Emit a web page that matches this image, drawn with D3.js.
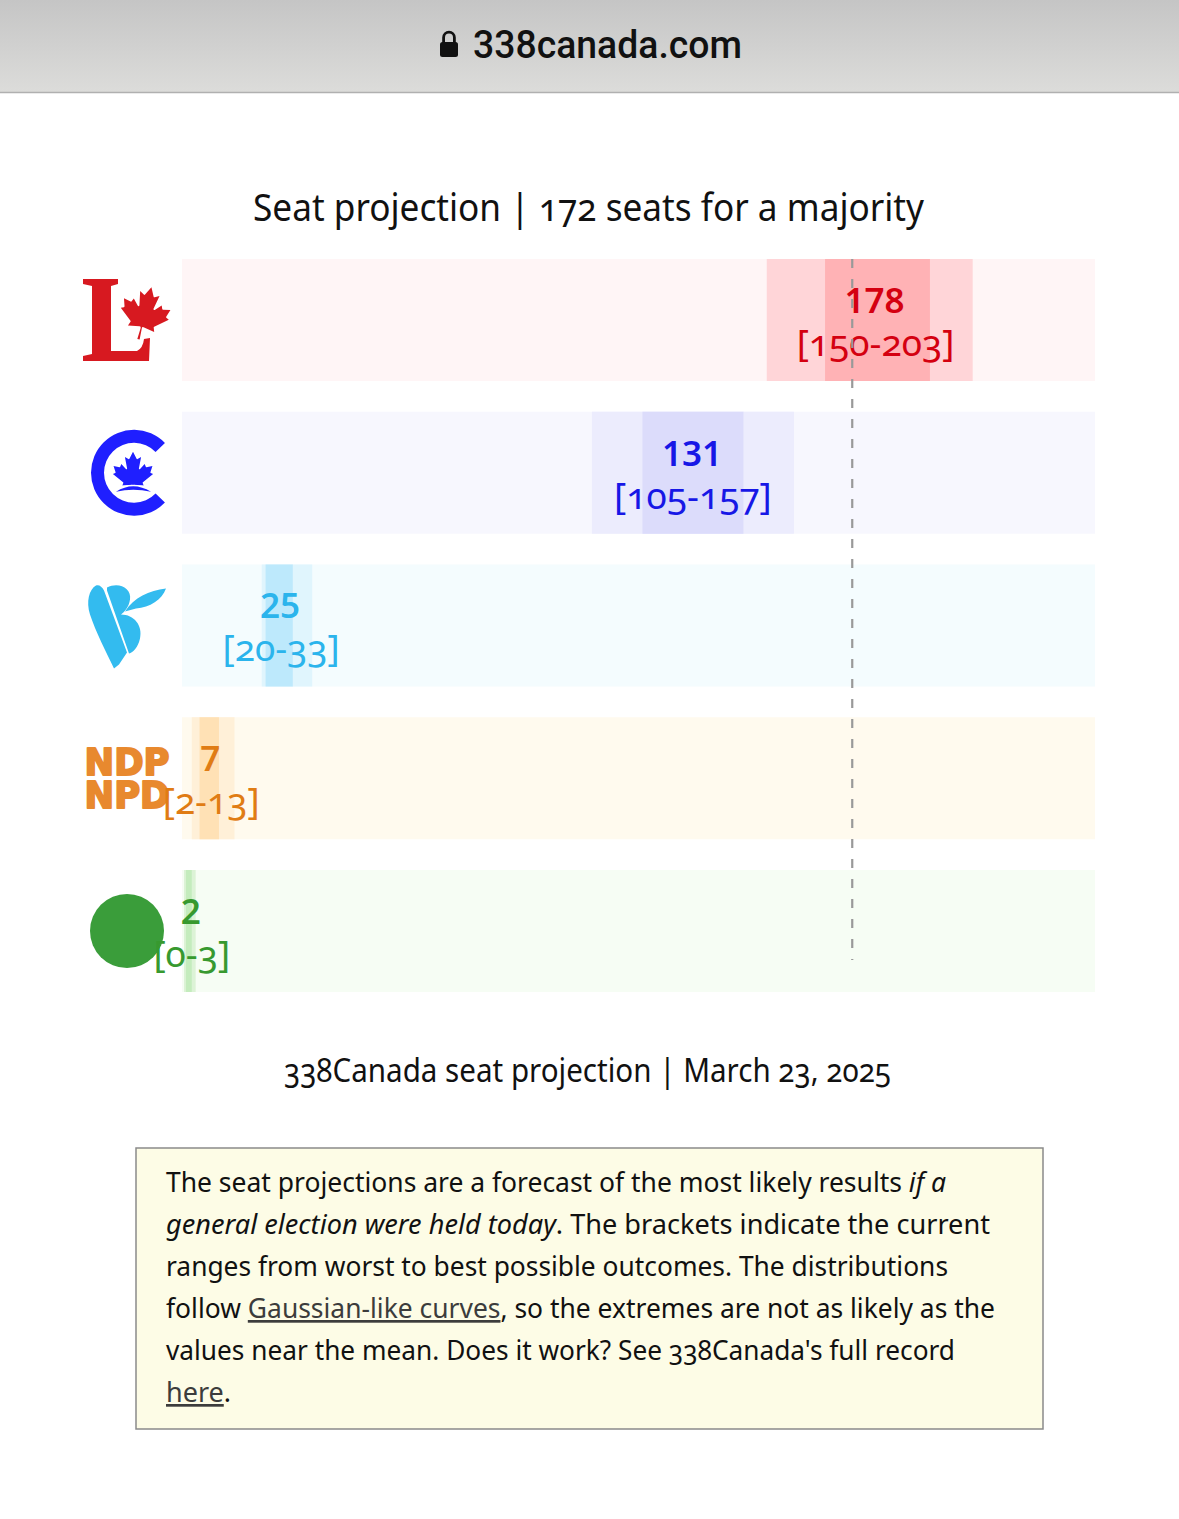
<!DOCTYPE html>
<html>
<head>
<meta charset="utf-8">
<script src="https://cdn.jsdelivr.net/npm/d3@7"></script>
<style>
  html, body { margin: 0; padding: 0; background: #ffffff; }
  svg { display: block; }
  .osn { font-variant-numeric: oldstyle-nums; font-feature-settings: "onum" 1; }
</style>
</head>
<body>
<svg id="chart" width="1179" height="1519"></svg>
<script>
// ---------------- data ----------------
const parties    = ["Liberal", "Conservative", "Bloc", "NDP", "Green"];
const projected  = [178, 131, 25, 7, 2];
const rangeLow   = [150, 105, 20, 2, 0];
const rangeHigh  = [203, 157, 33, 13, 3];
const likelyLow  = [165, 118, 21, 4, 0.5];
const likelyHigh = [192, 144, 28, 9, 2];
const majority   = 172;
const seatMax    = 235;

const titleText  = "Seat projection | 172 seats for a majority";
const dateText   = "338Canada seat projection | March 23, 2025";
const urlText    = "338canada.com";
const noteLines  = [
  [["The seat projections are a forecast of the most likely results ", ""], ["if a", "i"]],
  [["general election were held today", "i"], [". The brackets indicate the current", ""]],
  [["ranges from worst to best possible outcomes. The distributions", ""]],
  [["follow ", ""], ["Gaussian-like curves", "u"], [", so the extremes are not as likely as the", ""]],
  [["values near the mean. Does it work? See 338Canada's full record", ""]],
  [["here", "u"], [".", ""]]
];

// ---------------- styles ----------------
const textColor  = ["#d40010", "#1717e6", "#2bb4ec", "#e07c14", "#37992f"];
const bgColor    = ["#fff5f6", "#f7f7fe", "#f4fcfe", "#fffaee", "#f6fdf4"];
const outerColor = ["#ffd5d8", "#ececfd", "#e0f5fd", "#fff0d8", "#dcf3d6"];
const innerColor = ["#ffb2b5", "#dcdcfb", "#bde9fc", "#ffe1b5", "#c4ecbd"];
const FONT = "'Noto Sans', 'Open Sans', sans-serif";

const svg = d3.select("#chart");
const defs = svg.append("defs");

// ---------------- browser bar ----------------
const grad = defs.append("linearGradient").attr("id", "bar").attr("x1", 0).attr("y1", 0).attr("x2", 0).attr("y2", 1);
grad.append("stop").attr("offset", "0%").attr("stop-color", "#c5c5c5");
grad.append("stop").attr("offset", "100%").attr("stop-color", "#dcdcda");
svg.append("rect").attr("x", 0).attr("y", 0).attr("width", 1179).attr("height", 92).attr("fill", "url(#bar)");
svg.append("line").attr("x1", 0).attr("x2", 1179).attr("y1", 92.5).attr("y2", 92.5).attr("stroke", "#b0b0b0").attr("stroke-width", 1.5);
svg.append("rect").attr("x", 440).attr("y", 42).attr("width", 18).attr("height", 15).attr("rx", 2.5).attr("fill", "#111");
svg.append("path").attr("d", "M443.6,43 V37.5 a5.4,5.4 0 0 1 10.8,0 V43").attr("fill", "none").attr("stroke", "#111").attr("stroke-width", 2.8);
svg.append("text").attr("x", 473).attr("y", 58).attr("textLength", 269).attr("lengthAdjust", "spacingAndGlyphs")
  .attr("font-family", "Roboto, 'Liberation Sans', sans-serif").attr("font-weight", 500).attr("font-size", 38)
  .attr("fill", "#111").text(urlText);

// ---------------- title ----------------
svg.append("text").attr("class", "osn").attr("x", 253).attr("y", 221)
  .attr("textLength", 671).attr("lengthAdjust", "spacingAndGlyphs")
  .attr("font-family", FONT).attr("font-size", 38).attr("fill", "#111").text(titleText);

// ---------------- scales ----------------
const x = d3.scaleLinear().domain([0, seatMax]).range([184, 1097]);
const y = d3.scaleBand().domain(parties).range([259, 992]).paddingInner(0.2013).paddingOuter(0);
const bw = y.bandwidth();

const rows = parties.map((p, i) => ({
  p, i, proj: projected[i], lo: rangeLow[i], hi: rangeHigh[i], llo: likelyLow[i], lhi: likelyHigh[i]
}));

const g = svg.append("g");
g.selectAll("rect.bg").data(rows).join("rect").attr("class", "bg")
  .attr("x", x(0) - 2).attr("width", x(seatMax) - x(0))
  .attr("y", d => y(d.p)).attr("height", bw).attr("fill", d => bgColor[d.i]);
g.selectAll("rect.outer").data(rows).join("rect").attr("class", "outer")
  .attr("x", d => x(d.lo)).attr("width", d => x(d.hi) - x(d.lo))
  .attr("y", d => y(d.p)).attr("height", bw).attr("fill", d => outerColor[d.i]);
g.selectAll("rect.inner").data(rows).join("rect").attr("class", "inner")
  .attr("x", d => x(d.llo)).attr("width", d => x(d.lhi) - x(d.llo))
  .attr("y", d => y(d.p)).attr("height", bw).attr("fill", d => innerColor[d.i]);

// ---------------- logos ----------------
const refCenter = [320, 473, 625, 778, 931];
const logo = svg.append("g").selectAll("g").data(rows).join("g")
  .attr("transform", d => `translate(0,${y(d.p) + bw / 2 - refCenter[d.i]})`);

const leafPath = "m-90 2030 45-863a95 95 0 0 0-111-98l-859 151 116-320a65 65 0 0 0-20-73l-941-762 212-99a65 65 0 0 0 34-79l-186-572 542 115a65 65 0 0 0 73-38l105-247 423 454a65 65 0 0 0 111-57l-204-1052 327 189a65 65 0 0 0 91-27l332-652 332 652a65 65 0 0 0 91 27l327-189-204 1052a65 65 0 0 0 111 57l423-454 105 247a65 65 0 0 0 73 38l542-115-186 572a65 65 0 0 0 34 79l212 99-941 762a65 65 0 0 0-20 73l116 320-859-151a95 95 0 0 0-111 98l45 863z";

// Liberal
const lib = logo.filter(d => d.i === 0);
lib.append("path").attr("fill", "#d71920")
  .attr("d", "M83,279 L118,279 L118,284 L111,286 L111,351 L137,351 Q143,348 144,339 L150,338 L149,361 L83,361 L83,356 L92,354 L92,286 L83,284 Z");
lib.append("path").attr("fill", "#d71920").attr("d", leafPath)
  .attr("transform", "translate(145,313) rotate(14) scale(0.0133)");

// Conservative
const cpc = logo.filter(d => d.i === 1);
cpc.append("path").attr("fill", "#1f1fff")
  .attr("transform", "translate(134,473)")
  .attr("d", d3.arc()({ innerRadius: 30, outerRadius: 43, startAngle: 134 * Math.PI / 180, endAngle: 406 * Math.PI / 180 }));
defs.append("clipPath").attr("id", "cpcclip").append("path")
  .attr("d", "M100,430 L170,430 L170,491 Q133,479 96,491 Z");
cpc.append("g").attr("clip-path", "url(#cpcclip)").append("path").attr("fill", "#1f1fff").attr("d", leafPath)
  .attr("transform", "translate(133,473.6) scale(0.0108)");
cpc.append("path").attr("fill", "#1f1fff").attr("d", "M116,492 Q133,481 151,492 Q133,488 116,492 Z");

// Bloc
const bq = logo.filter(d => d.i === 2);
bq.append("path").attr("fill", "#33bbef")
  .attr("d", "M96,585 C89,589 86,601 90,614 C96,632 106,651 114,668 L119,664 L127,652 L104,590 C102,586 99,584 96,585 Z");
bq.append("path").attr("fill", "#33bbef")
  .attr("d", "M107,587 C118,581 132,587 130,599 C129,606 125,611 121,614 C134,614 143,625 140,638 C138,647 133,652 129,653 L107,590 Z");
bq.append("path").attr("fill", "#33bbef")
  .attr("d", "M125,611 C134,597 149,590 166,588 C162,599 150,607 136,608 Z");

// NDP
const ndp = logo.filter(d => d.i === 3);
[["NDP", 775], ["NPD", 808]].forEach(([s, yy]) => {
  ndp.append("text").attr("x", 84.5).attr("y", yy).attr("textLength", 85).attr("lengthAdjust", "spacingAndGlyphs")
    .attr("font-family", "'DejaVu Sans', sans-serif").attr("font-weight", "bold").attr("font-size", 37)
    .attr("fill", "#e8892e").attr("stroke", "#e8892e").attr("stroke-width", 2).attr("stroke-linejoin", "round").text(s);
});

// Green
logo.filter(d => d.i === 4).append("circle").attr("cx", 127).attr("cy", 931).attr("r", 37).attr("fill", "#3a9d3a");

// ---------------- labels ----------------
const lab = svg.append("g").attr("font-family", FONT).attr("text-anchor", "middle");
lab.selectAll("text.val").data(rows).join("text").attr("class", "val")
  .attr("x", d => x(d.proj) - 1).attr("y", d => y(d.p) + 54)
  .attr("font-size", 35).attr("font-weight", 600).attr("fill", d => textColor[d.i])
  .text(d => d.proj);
lab.selectAll("text.rng").data(rows).join("text").attr("class", "rng osn")
  .attr("x", d => x(d.proj)).attr("y", d => y(d.p) + 97)
  .attr("font-size", 37).attr("fill", d => textColor[d.i])
  .text(d => `[${d.lo}-${d.hi}]`);

// ---------------- majority line ----------------
svg.append("line").attr("x1", x(majority)).attr("x2", x(majority))
  .attr("y1", y(parties[0])).attr("y2", 960)
  .attr("stroke", "#999999").attr("stroke-width", 2.2).attr("stroke-dasharray", "9,11");

// ---------------- date caption ----------------
svg.append("text").attr("class", "osn").attr("x", 284).attr("y", 1082)
  .attr("textLength", 607).attr("lengthAdjust", "spacingAndGlyphs")
  .attr("font-family", FONT).attr("font-size", 33).attr("fill", "#111").text(dateText);

// ---------------- note box ----------------
svg.append("rect").attr("x", 136).attr("y", 1148).attr("width", 907).attr("height", 281)
  .attr("fill", "#fdfce6").attr("stroke", "#8a8a8a").attr("stroke-width", 1.5);
const lineEnds = [946, 990, 948, 995, 955, null];
noteLines.forEach((segs, k) => {
  const t = svg.append("text").attr("class", "osn").attr("x", 166).attr("y", 1192 + 42 * k)
    .attr("font-family", FONT).attr("font-size", 27).attr("fill", "#111");
  if (lineEnds[k]) t.attr("textLength", lineEnds[k] - 166).attr("lengthAdjust", "spacingAndGlyphs");
  segs.forEach(([s, st]) => {
    const ts = t.append("tspan").text(s);
    if (st === "i") ts.attr("font-style", "italic");
    if (st === "u") ts.attr("text-decoration", "underline").attr("fill", "#3c3c3c");
  });
});
</script>
</body>
</html>
